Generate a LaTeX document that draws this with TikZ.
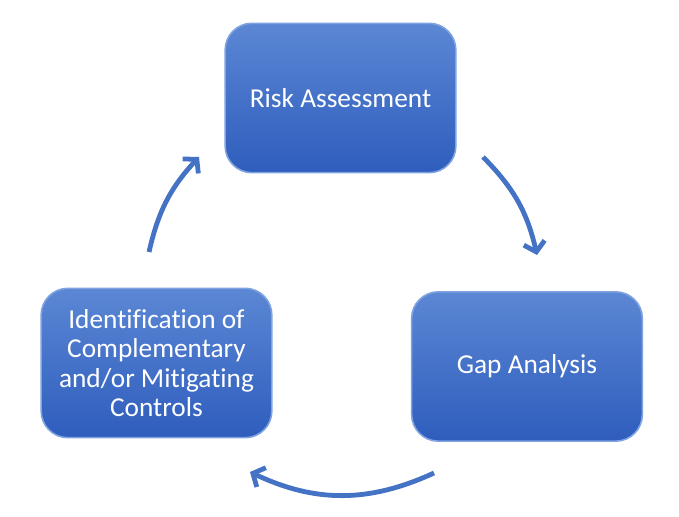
\documentclass[tikz,border=0pt]{standalone}
\usepackage{fontspec}
\setmainfont{Carlito}[Ligatures=NoCommon]
\usepackage{tikz}
\usetikzlibrary{arrows.meta,positioning}
\definecolor{boxtop}{HTML}{5B87D4}
\definecolor{boxbot}{HTML}{2E5DBD}
\definecolor{boxrim}{HTML}{7FA2E0}
\definecolor{cyc}{HTML}{4472C4}

\begin{document}
\begin{tikzpicture}[x=0.75pt,y=0.75pt,
		stepbox/.style={rounded corners=20pt,top color=boxtop,bottom color=boxbot,draw=boxrim,line width=1.2pt,
			minimum width=173pt,minimum height=112pt,text=white,align=center,font=\fontsize{20.5}{22}\selectfont},
		cycarrow/.style={draw=cyc,line width=3.6pt,-{Straight Barb[length=7pt,width=16pt]}}]
		\useasboundingbox (0,0) rectangle (679,517);
		\node[stepbox] (risk) at (340.5,419) {Risk Assessment};
		\node[stepbox] (gap) at (527,150.5) {Gap Analysis};
		\node[stepbox] (ident) at (156.5,154) {Identification of\\Complementary\\and/or Mitigating\\Controls};
		\coordinate (a1) at (483,360);
		\coordinate (a2) at (537,262);
		\coordinate (b1) at (434,44);
		\coordinate (b2) at (250,45);
		\coordinate (c1) at (149,265);
		\coordinate (c2) at (199,360);
		\draw[cycarrow] (a1) to[bend left=16] (a2);
		\draw[cycarrow] (b1) to[bend left=25] (b2);
		\draw[cycarrow] (c1) to[bend left=15] (c2);
	\end{tikzpicture}
\end{document}
